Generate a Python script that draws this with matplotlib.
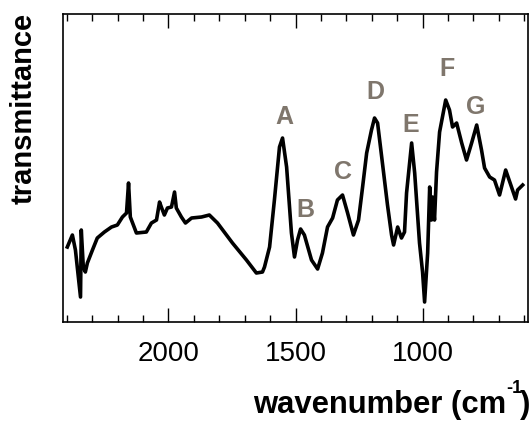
import matplotlib.pyplot as plt

plt.rcParams['font.family'] = ['Liberation Sans', 'DejaVu Sans']

# spectrum (wavenumber in cm-1, transmittance in arbitrary units)
wavenumber = [2398, 2378, 2366, 2346, 2343, 2335, 2327, 2319, 2299, 2280, 2252, 2224,
              2201, 2181, 2165, 2157, 2150, 2126, 2087, 2067, 2047, 2035, 2028, 2016,
              2004, 1988, 1976, 1969, 1949, 1933, 1909, 1870, 1839, 1807,
              1748, 1693, 1654, 1630, 1622, 1602, 1583, 1563, 1551, 1535, 1516, 1504,
              1492, 1480, 1465, 1437, 1413, 1394, 1374, 1354, 1335, 1315, 1295, 1272,
              1252, 1236, 1220, 1201, 1189, 1177, 1157, 1138, 1122, 1114, 1098, 1083,
              1071, 1063, 1043, 1031, 1012, 1000, 992, 980, 972, 965, 961, 953,
              945, 933, 909, 894, 882, 866, 846, 827, 807, 787, 768, 756,
              736, 717, 697, 673, 650, 634, 626, 606]
transmittance = [75, 87, 72, 25, 92, 55, 50, 59, 72, 84, 90, 95,
                 97, 105, 109, 139, 105, 89, 90, 99, 102, 120, 115, 107,
                 114, 115, 130, 114, 105, 99, 104, 105, 107, 99,
                 79, 62, 49, 50, 55, 75, 122, 175, 184, 155, 89, 65,
                 82, 93, 87, 62, 53, 69, 95, 104, 122, 127, 109, 87,
                 102, 135, 169, 192, 204, 199, 157, 117, 87, 77, 95, 84,
                 90, 129, 179, 149, 79, 50, 20, 69, 135, 102, 125, 102,
                 150, 190, 222, 212, 195, 199, 179, 162, 179, 197, 172, 154,
                 145, 142, 127, 152, 135, 123, 132, 137]

peak_labels = ['A', 'B', 'C', 'D', 'E', 'F', 'G']
peak_x = [1545, 1460, 1315, 1185, 1045, 905, 790]
peak_y = [205, 112, 150, 230, 197, 253, 215]

fig = plt.figure(figsize=(5.31, 4.26), dpi=100)
ax = fig.add_axes([0.1186, 0.2441, 0.8758, 0.7230])

ax.plot(wavenumber, transmittance, color='black', lw=2.6)

for lab, x, y in zip(peak_labels, peak_x, peak_y):
    ax.text(x, y, lab, color='#7f766c', fontsize=18, fontweight='bold',
            ha='center', va='center')

ax.set_xlim(2415, 585)
ax.set_ylim(0, 308)
ax.set_xticks([2000, 1500, 1000])
ax.set_xticks(range(2400, 585, -100), minor=True)
ax.set_yticks([])
ax.tick_params(axis='x', which='both', direction='in', top=True, bottom=True,
               labelsize=20, pad=14, width=1)
ax.tick_params(axis='x', which='major', length=10)
ax.tick_params(axis='x', which='minor', length=5)
for s in ax.spines.values():
    s.set_linewidth(1.2)

# x label built from pieces so the superscript sits high like the original
W, H = 531, 426
fig.text(506 / W, 1 - 413 / H, 'wavenumber (cm', ha='right', va='baseline',
         fontsize=22.3, fontweight='bold')
fig.text(506 / W, 1 - 393 / H, '-1', ha='left', va='baseline',
         fontsize=13, fontweight='bold')
fig.text(530 / W, 1 - 413 / H, ')', ha='right', va='baseline',
         fontsize=22.3, fontweight='bold')
fig.text(24 / W, 1 - 13 / H, 'transmittance', rotation=90, ha='center', va='top',
         fontsize=21, fontweight='bold')

fig.savefig('out.png', dpi=100)
